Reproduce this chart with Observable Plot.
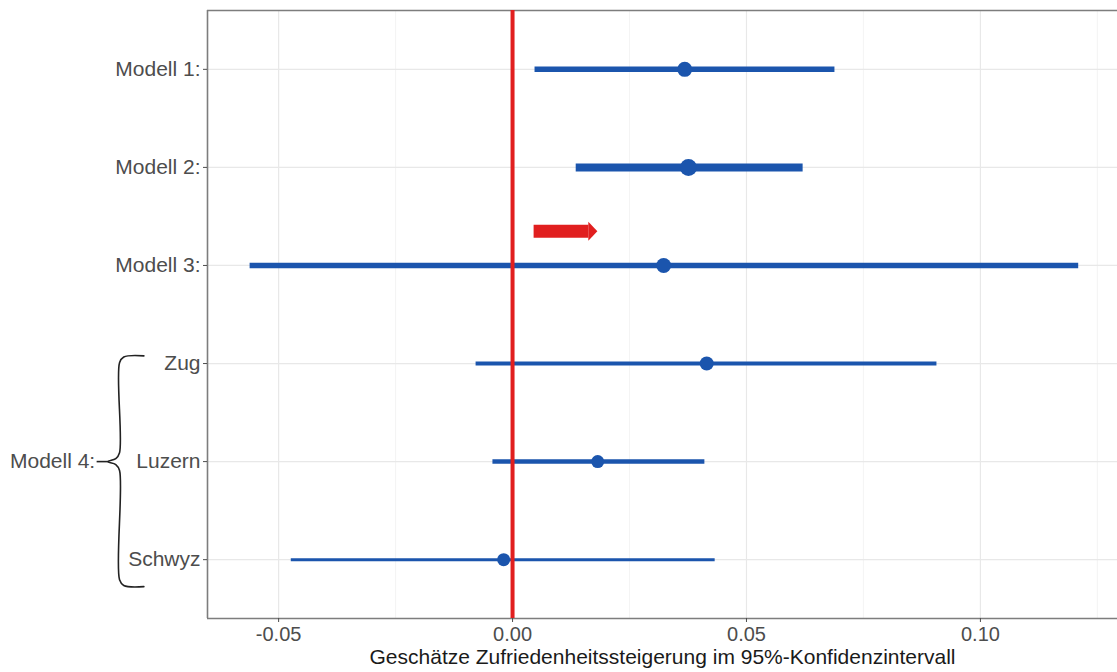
<!DOCTYPE html>
<html><head><meta charset="utf-8">
<script src="https://cdn.jsdelivr.net/npm/d3@7"></script>
<script src="https://cdn.jsdelivr.net/npm/@observablehq/plot@0.6"></script>
<style>
body{margin:0;background:#fff;font-family:"Liberation Sans",Arial,sans-serif;}
#chart{position:relative;width:1117px;height:672px;overflow:hidden;background:#fff}
</style></head><body><div id="chart"></div>
<script>
// ---- data ----
const labels    = ["Modell 1:", "Modell 2:", "Modell 3:", "Zug", "Luzern", "Schwyz"];
const estimates = [0.0368, 0.0376, 0.0323, 0.0415, 0.0182, -0.0019];
const lower     = [0.0047, 0.0135, -0.0562, -0.0079, -0.0043, -0.0474];
const upper     = [0.0688, 0.0620, 0.1209, 0.0906, 0.0410, 0.0432];
const xTicks      = [-0.05, 0, 0.05, 0.10];
const xTickLabels = ["-0.05", "0.00", "0.05", "0.10"];
const xMinorTicks = [-0.025, 0.025, 0.075, 0.125];
const xTitle = "Geschätze Zufriedenheitssteigerung im 95%-Konfidenzintervall";
const groupLabel = "Modell 4:";
const groupMembers = ["Zug", "Luzern", "Schwyz"];
// arrow annotation (data units: x value, y = row position between Modell 2 and 3)
const arrowFrom = [0.0045];
const arrowTo   = [0.0162];
const arrowRow  = [2.65];

// ---- styles ----
const lineW = [5.5, 8, 5.5, 4, 4.5, 3];
const dotR  = [7.5, 8.5, 7.5, 7, 6.5, 6.5];
const blue = "#1b55ad";
const red = "#e11f1f";
const textGrey = "#4d4d4d";

const rows = labels.map((l, i) => ({label: l, pos: i + 1, est: estimates[i], lo: lower[i], hi: upper[i], w: lineW[i], r: dotR[i]}));
const xDomain = [-0.0652, 0.1293];
const yDomain = [0.4, 6.6];

// brace built from group rows
const gTop = labels.indexOf(groupMembers[0]) + 1;
const gMid = labels.indexOf(groupMembers[1]) + 1;
const gBot = labels.indexOf(groupMembers[2]) + 1;
const bx = -0.0840, tipX = -0.0788, noseX = -0.0866;
const bTop = gTop - 0.078, bBot = gBot + 0.275;
const brace = [
  {x: tipX, y: bTop}, {x: bx + 0.0009, y: bTop + 0.012}, {x: bx, y: bTop + 0.07},
  {x: bx, y: gMid - 0.09}, {x: bx - 0.0008, y: gMid - 0.03}, {x: noseX, y: gMid},
  {x: bx - 0.0008, y: gMid + 0.03}, {x: bx, y: gMid + 0.09},
  {x: bx, y: bBot - 0.07}, {x: bx + 0.0009, y: bBot - 0.012}, {x: tipX, y: bBot}
];

const arrowHead = {
  draw(context, size) {
    const r = Math.sqrt(size / Math.PI);
    context.moveTo(0, -r);
    context.lineTo(0.95 * r, 0);
    context.lineTo(0, r);
    context.closePath();
  }
};

const arrows = arrowFrom.map((v, i) => ({x1: v, x2: arrowTo[i], y: arrowRow[i]}));

const chart = Plot.plot({
  width: 1117, height: 672,
  marginLeft: 207, marginRight: 0, marginTop: 10, marginBottom: 54,
  style: {fontFamily: "'Liberation Sans', Arial, sans-serif", fontSize: "18px", background: "white", overflow: "visible"},
  x: {domain: xDomain},
  y: {domain: yDomain, reverse: true},
  marks: [
    Plot.gridX(xMinorTicks, {stroke: "#efefef", strokeOpacity: 1, strokeWidth: 0.7}),
    Plot.gridX(xTicks, {stroke: "#e8e8e8", strokeOpacity: 1, strokeWidth: 1.2}),
    Plot.gridY(rows.map(d => d.pos), {stroke: "#e8e8e8", strokeOpacity: 1, strokeWidth: 1.2}),
    Plot.ruleX([xDomain[0]], {stroke: "#7d7d7d", strokeWidth: 1.6}),
    Plot.ruleY(yDomain, {stroke: "#7d7d7d", strokeWidth: 1.6}),
    Plot.axisX(xTicks, {tickFormat: (d) => xTickLabels[xTicks.indexOf(d)], tickSize: 4, tickPadding: 4, fontSize: 20, color: textGrey, label: null}),
    Plot.axisY(rows.map(d => d.pos), {tickFormat: d => labels[d - 1], tickSize: 4, tickPadding: 3, fontSize: 21, color: textGrey, label: null}),
    ...rows.map(d => Plot.link([d], {x1: "lo", x2: "hi", y1: "pos", y2: "pos", stroke: blue, strokeWidth: d.w, strokeLinecap: "butt"})),
    ...rows.map(d => Plot.dot([d], {x: "est", y: "pos", r: d.r, fill: blue, stroke: null})),
    Plot.ruleX([0], {stroke: red, strokeWidth: 4}),
    Plot.link(arrows, {x1: "x1", x2: "x2", y1: "y", y2: "y", stroke: red, strokeWidth: 13, strokeLinecap: "butt"}),
    Plot.dot(arrows, {x: "x2", y: "y", r: 9.5, symbol: arrowHead, fill: red, stroke: null}),
    Plot.line(brace, {x: "x", y: "y", curve: "catmull-rom", stroke: "#222", strokeWidth: 1.6}),
    Plot.link([{x1: -0.0889, x2: noseX, y: gMid}], {x1: "x1", x2: "x2", y1: "y", y2: "y", stroke: "#222", strokeWidth: 1.6}),
    Plot.text([groupLabel], {x: -0.0892, y: gMid, text: d => d, textAnchor: "end", fontSize: 21, fill: textGrey}),
    Plot.text([xTitle], {frameAnchor: "bottom", dy: 45, text: d => d, fontSize: 21, fill: "#1a1a1a"})
  ]
});
document.getElementById("chart").appendChild(chart);
</script>
</body></html>
